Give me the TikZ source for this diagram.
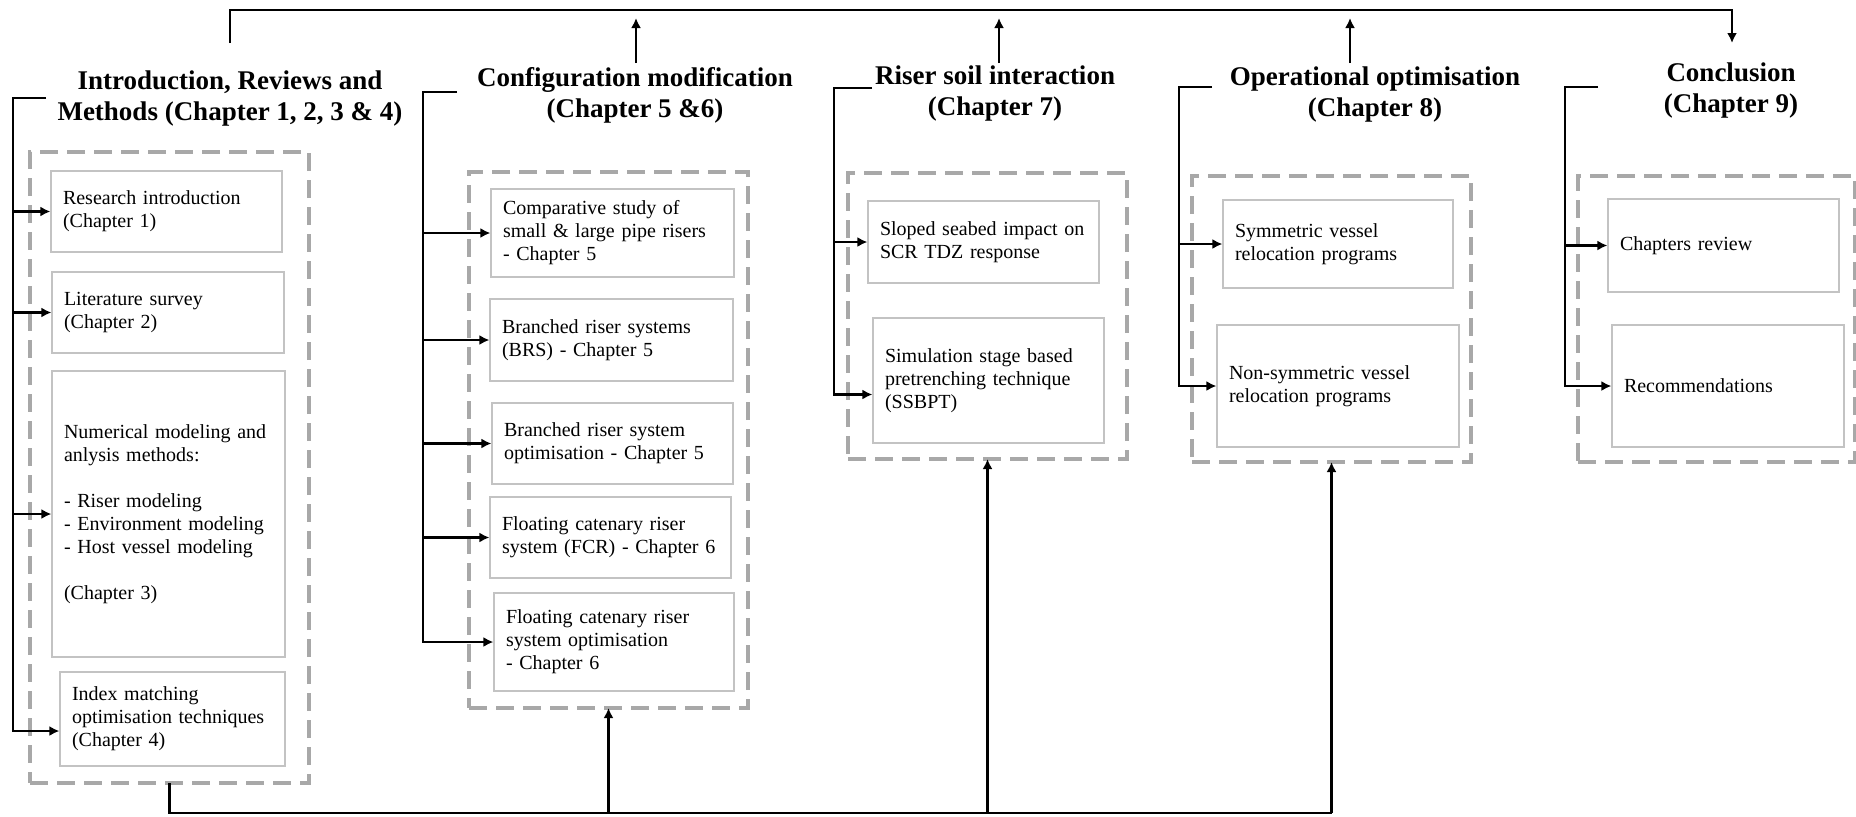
\documentclass[tikz,border=0pt]{standalone}
\usepackage{fontspec}
\setmainfont{Liberation Serif}
\usetikzlibrary{arrows.meta}
\definecolor{groupgray}{RGB}{168,168,168}
\definecolor{boxgray}{RGB}{195,195,195}
\tikzset{
  chapbox/.style={draw=boxgray, line width=0.6pt, align=left, inner xsep=6pt, inner ysep=0pt,
    font=\fontsize{10}{11.5}\selectfont},
  group/.style={draw=groupgray, line width=2pt, dash pattern=on 9pt off 4.5pt, inner sep=0pt, outer sep=0pt},
  heading/.style={align=center, font=\fontsize{13.5}{15.5}\selectfont\bfseries},
  link/.style={line width=1.45pt},
  feed/.style={link, -{Latex[length=5pt,width=5pt]}},
}

\begin{document}
\begin{tikzpicture}[x=0.5pt, y=-0.5pt]
    \useasboundingbox (0,0) rectangle (1856,816);
    % dashed groups
    \node[group, minimum width=139.5pt, minimum height=315.5pt] (grp1) at (169.5,467.5) {};
    \node[group, minimum width=139.5pt, minimum height=268pt] (grp2) at (608.5,440) {};
    \node[group, minimum width=139.5pt, minimum height=143pt] (grp3) at (987.5,316) {};
    \node[group, minimum width=139.5pt, minimum height=143pt] (grp4) at (1331.5,319) {};
    \node[group, minimum width=138.5pt, minimum height=143pt] (grp5) at (1716.5,319) {};
    % headings
    \node[heading] (head1) at (230,98) {Introduction, Reviews and\\Methods (Chapter 1, 2, 3 \& 4)};
    \node[heading] (head2) at (635,95) {Configuration modification\\(Chapter 5 \&6)};
    \node[heading] (head3) at (995,93) {Riser soil interaction\\(Chapter 7)};
    \node[heading] (head4) at (1375,94) {Operational optimisation\\(Chapter 8)};
    \node[heading] (head5) at (1731,90) {Conclusion\\(Chapter 9)};
    % chapters 1 - 4
    \node[chapbox, text width=103.5pt, minimum height=40.5pt] (intro) at (166.5,211.5) {Research introduction\\(Chapter 1)};
    \node[chapbox, text width=104pt, minimum height=40.5pt] (lit) at (168,312.5) {Literature survey\\(Chapter 2)};
    \node[chapbox, text width=104.5pt, minimum height=143pt] (num) at (168.5,514) {Numerical modeling and\\anlysis methods:\\[11.5pt]- Riser modeling\\- Environment modeling\\- Host vessel modeling\\[11.5pt](Chapter 3)};
    \node[chapbox, text width=100.5pt, minimum height=47pt] (idx) at (172.5,719) {Index matching\\optimisation techniques\\(Chapter 4)};
    % chapters 5 - 6
    \node[chapbox, text width=109.5pt, minimum height=44pt] (comp) at (612.5,233) {Comparative study of\\small \& large pipe risers\\- Chapter 5};
    \node[chapbox, text width=109.5pt, minimum height=41pt] (brs) at (611.5,340) {Branched riser systems\\(BRS) - Chapter 5};
    \node[chapbox, text width=108.5pt, minimum height=40.5pt] (brsopt) at (612.5,443.5) {Branched riser system\\optimisation - Chapter 5};
    \node[chapbox, text width=108.5pt, minimum height=40.5pt] (fcr) at (610.5,537.5) {Floating catenary riser\\system (FCR) - Chapter 6};
    \node[chapbox, text width=108pt, minimum height=49pt] (fcropt) at (614,642) {Floating catenary riser\\system optimisation\\- Chapter 6};
    % chapter 7
    \node[chapbox, text width=103.5pt, minimum height=41pt] (slope) at (983.5,242) {Sloped seabed impact on\\SCR TDZ response};
    \node[chapbox, text width=103.5pt, minimum height=62.5pt] (ssbpt) at (988.5,380.5) {Simulation stage based\\pretrenching technique\\(SSBPT)};
    % chapter 8
    \node[chapbox, text width=103pt, minimum height=44pt] (sym) at (1338,244) {Symmetric vessel\\relocation programs};
    \node[chapbox, text width=109pt, minimum height=61pt] (nonsym) at (1338,386) {Non-symmetric vessel\\relocation programs};
    % chapter 9
    \node[chapbox, text width=103.5pt, minimum height=46.5pt] (review) at (1723.5,245.5) {Chapters review};
    \node[chapbox, text width=104pt, minimum height=61pt] (recom) at (1728,386) {Recommendations};
    % brackets
    \coordinate (stub1) at (46,98);
    \coordinate (rail1) at (13,98);
    \draw[feed] (stub1) -- (rail1) |- ([yshift=-6pt]idx.west);
    \draw[feed] (rail1 |- intro.west) -- (intro.west);
    \draw[feed] (rail1 |- lit.west) -- (lit.west);
    \draw[feed] (rail1 |- num.west) -- (num.west);
    \coordinate (stub2) at (457,92);
    \coordinate (rail2) at (423,92);
    \draw[feed] (stub2) -- (rail2) |- (fcropt.west);
    \draw[feed] (rail2 |- comp.west) -- (comp.west);
    \draw[feed] (rail2 |- brs.west) -- (brs.west);
    \draw[feed] (rail2 |- brsopt.west) -- (brsopt.west);
    \draw[feed] (rail2 |- fcr.west) -- (fcr.west);
    \coordinate (stub3) at (872,88);
    \coordinate (rail3) at (834,88);
    \draw[feed] (stub3) -- (rail3) |- ([yshift=-7pt]ssbpt.west);
    \draw[feed] (rail3 |- slope.west) -- (slope.west);
    \coordinate (stub4) at (1212,87);
    \coordinate (rail4) at (1179,87);
    \draw[feed] (stub4) -- (rail4) |- (nonsym.west);
    \draw[feed] (rail4 |- sym.west) -- (sym.west);
    \coordinate (stub5) at (1598,87);
    \coordinate (rail5) at (1565,87);
    \draw[feed] (stub5) -- (rail5) |- (recom.west);
    \draw[feed] (rail5 |- review.west) -- (review.west);
    % top line
    \coordinate (bus) at (0,10);
    \coordinate (top1) at (230,43);
    \coordinate (top5) at (1732,43);
    \coordinate (up2) at (636,63);
    \coordinate (up3) at (999,63);
    \coordinate (up4) at (1350,63);
    \draw[feed] (top1) -- (top1 |- bus) -| (top5);
    \draw[feed, shorten >=4pt] (up2) -- (up2 |- bus);
    \draw[feed, shorten >=4pt] (up3) -- (up3 |- bus);
    \draw[feed, shorten >=4pt] (up4) -- (up4 |- bus);
    % bottom line
    \coordinate (base) at (0,813);
    \draw[link] (grp1.south) -- (grp1.south |- base) -- (grp4.south |- base);
    \draw[feed] (grp2.south |- base) -- (grp2.south);
    \draw[feed] (grp3.south |- base) -- (grp3.south);
    \draw[feed] (grp4.south |- base) -- (grp4.south);
\end{tikzpicture}
\end{document}
